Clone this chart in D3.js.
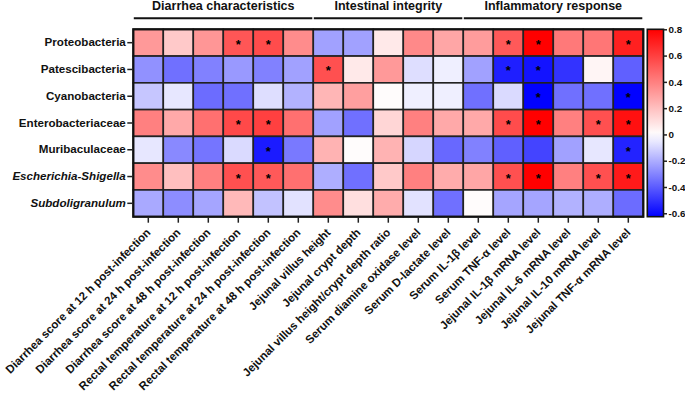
<!DOCTYPE html>
<html>
<head>
<meta charset="utf-8">
<script src="https://cdn.jsdelivr.net/npm/d3@7"></script>
<style>
  body { margin: 0; background: #fff; }
  svg { font-family: "Liberation Sans", Arial, sans-serif; font-weight: bold; }
</style>
</head>
<body>
<script>
const taxa = ["Proteobacteria", "Patescibacteria", "Cyanobacteria", "Enterobacteriaceae",
    "Muribaculaceae", "Escherichia-Shigella", "Subdoligranulum"];
const italicTaxa = ["Escherichia-Shigella", "Subdoligranulum"];

const indices = [
    "Diarrhea score at 12 h post-infection",
    "Diarrhea score at 24 h post-infection",
    "Diarrhea score at 48 h post-infection",
    "Rectal temperature at 12 h post-infection",
    "Rectal temperature at 24 h post-infection",
    "Rectal temperature at 48 h post-infection",
    "Jejunal villus height",
    "Jejunal crypt depth",
    "Jejunal villus height/crypt depth ratio",
    "Serum diamine oxidase level",
    "Serum D-lactate level",
    "Serum IL-1β level",
    "Serum TNF-α level",
    "Jejunal IL-1β mRNA level",
    "Jejunal IL-6 mRNA level",
    "Jejunal IL-10 mRNA level",
    "Jejunal TNF-α mRNA level"
];

const groups = ["Diarrhea characteristics", "Intestinal integrity", "Inflammatory response"];
const groupSpans = [[0, 5], [6, 10], [11, 16]];

// correlation coefficients, one row per taxon
const rProteobacteria = [0.32, 0.17, 0.33, 0.53, 0.56, 0.36, -0.23, -0.23, 0.07, 0.37, 0.28, 0.31, 0.52, 0.80, 0.42, 0.43, 0.70];
const rPatescibacteria = [-0.27, -0.35, -0.31, -0.25, -0.31, -0.23, 0.55, 0.07, 0.32, -0.08, -0.04, -0.23, -0.55, -0.58, -0.50, 0.03, -0.39];
const rCyanobacteria = [-0.14, -0.06, -0.36, -0.35, -0.08, -0.19, 0.23, 0.30, 0.01, -0.04, -0.04, -0.35, -0.09, -0.62, -0.35, -0.35, -0.62];
const rEnterobacteriaceae = [0.40, 0.27, 0.45, 0.57, 0.60, 0.45, -0.23, -0.35, 0.13, 0.40, 0.27, 0.27, 0.56, 0.80, 0.40, 0.55, 0.75];
const rMuribaculaceae = [-0.06, -0.29, -0.34, -0.09, -0.56, -0.33, 0.24, 0.01, 0.24, -0.10, -0.37, -0.31, -0.39, -0.46, -0.23, -0.06, -0.54];
const rEscherichia = [0.36, 0.20, 0.40, 0.55, 0.52, 0.45, -0.20, -0.35, 0.17, 0.40, 0.26, 0.28, 0.55, 0.80, 0.40, 0.55, 0.72];
const rSubdoligranulum = [-0.21, -0.28, -0.22, 0.22, -0.15, -0.07, 0.36, 0.10, 0.26, -0.07, -0.35, 0.01, -0.22, -0.22, -0.19, -0.20, -0.36];

// significance marks (1 = P < 0.05)
const sigProteobacteria = [0, 0, 0, 1, 1, 0, 0, 0, 0, 0, 0, 0, 1, 1, 0, 0, 1];
const sigPatescibacteria = [0, 0, 0, 0, 0, 0, 1, 0, 0, 0, 0, 0, 1, 1, 0, 0, 0];
const sigCyanobacteria = [0, 0, 0, 0, 0, 0, 0, 0, 0, 0, 0, 0, 0, 1, 0, 0, 1];
const sigEnterobacteriaceae = [0, 0, 0, 1, 1, 0, 0, 0, 0, 0, 0, 0, 1, 1, 0, 1, 1];
const sigMuribaculaceae = [0, 0, 0, 0, 1, 0, 0, 0, 0, 0, 0, 0, 0, 0, 0, 0, 1];
const sigEscherichia = [0, 0, 0, 1, 1, 0, 0, 0, 0, 0, 0, 0, 1, 1, 0, 1, 1];
const sigSubdoligranulum = [0, 0, 0, 0, 0, 0, 0, 0, 0, 0, 0, 0, 0, 0, 0, 0, 0];

const colorTicks = [-0.6, -0.4, -0.2, 0, 0.2, 0.4, 0.6, 0.8];
const colorMin = -0.626, colorMax = 0.8;

const rValues = [rProteobacteria, rPatescibacteria, rCyanobacteria, rEnterobacteriaceae,
    rMuribaculaceae, rEscherichia, rSubdoligranulum];
const sigValues = [sigProteobacteria, sigPatescibacteria, sigCyanobacteria, sigEnterobacteriaceae,
    sigMuribaculaceae, sigEscherichia, sigSubdoligranulum];

const svgWidth = 685, svgHeight = 395;
const plot = {left: 133.3, right: 643.3, top: 29.3, bottom: 216.7};

const cells = [];
taxa.forEach((t, i) => indices.forEach((c, j) => {
    cells.push({taxon: t, index: c, r: rValues[i][j], sig: sigValues[i][j]});
}));

const svg = d3.select("body").append("svg")
    .attr("width", svgWidth)
    .attr("height", svgHeight);

const x = d3.scaleBand().domain(indices).range([plot.left, plot.right]);
const y = d3.scaleBand().domain(taxa).range([plot.top, plot.bottom]);
const color = d3.scaleLinear()
    .domain([colorMin, 0, colorMax])
    .range(["#0000ff", "#ffffff", "#ff0000"]);

// cells
svg.append("g")
    .selectAll("rect")
    .data(cells)
    .join("rect")
    .attr("x", d => x(d.index))
    .attr("y", d => y(d.taxon))
    .attr("width", x.bandwidth())
    .attr("height", y.bandwidth())
    .attr("fill", d => color(d.r))
    .attr("stroke", "#222")
    .attr("stroke-width", 1.6);

svg.append("g")
    .selectAll("text")
    .data(cells.filter(d => d.sig))
    .join("text")
    .attr("x", d => x(d.index) + x.bandwidth() / 2)
    .attr("y", d => y(d.taxon) + y.bandwidth() / 2 + 6)
    .attr("text-anchor", "middle")
    .attr("font-size", 13)
    .attr("fill", "#000")
    .text("*");

svg.append("rect")
    .attr("x", plot.left).attr("y", plot.top)
    .attr("width", plot.right - plot.left).attr("height", plot.bottom - plot.top)
    .attr("fill", "none").attr("stroke", "#111").attr("stroke-width", 2.2);

// y axis
const gy = svg.append("g")
    .attr("transform", `translate(${plot.left - 1},0)`)
    .call(d3.axisLeft(y).tickSize(5).tickPadding(1.5));
gy.select(".domain").remove();
gy.selectAll("line").attr("stroke", "#222").attr("stroke-width", 1.5);
gy.selectAll("text")
    .attr("font-size", 11.6)
    .attr("font-weight", "bold")
    .attr("font-family", "Liberation Sans, Arial, sans-serif")
    .attr("fill", "#111")
    .attr("font-style", d => italicTaxa.includes(d) ? "italic" : "normal");

// x axis
const gx = svg.append("g")
    .attr("transform", `translate(0,${plot.bottom + 1})`)
    .call(d3.axisBottom(x).tickSize(5));
gx.select(".domain").remove();
gx.selectAll("line").attr("stroke", "#222").attr("stroke-width", 1.5);
gx.selectAll("text")
    .attr("x", 0).attr("y", 0).attr("dy", 0)
    .attr("transform", "translate(3,15.5) rotate(-45)")
    .attr("text-anchor", "end")
    .attr("font-size", 11.5)
    .attr("font-weight", "bold")
    .attr("font-family", "Liberation Sans, Arial, sans-serif")
    .attr("fill", "#111");

// group headers
const gh = svg.append("g");
groups.forEach((g, i) => {
    const x0 = x(indices[groupSpans[i][0]]);
    const x1 = x(indices[groupSpans[i][1]]) + x.bandwidth();
    gh.append("line")
        .attr("x1", x0 + 0.5).attr("x2", x1 - 1)
        .attr("y1", 18.3).attr("y2", 18.3)
        .attr("stroke", "#111").attr("stroke-width", 2);
    gh.append("text")
        .attr("x", (x0 + x1) / 2).attr("y", 9.5)
        .attr("text-anchor", "middle")
        .attr("font-size", 12.5)
        .attr("fill", "#111")
        .text(g);
});

// colour bar
const bar = {x: 647.3, w: 16.2};
const cy = d3.scaleLinear().domain([colorMin, colorMax]).range([plot.bottom, plot.top]);
const grad = svg.append("defs").append("linearGradient")
    .attr("id", "cbar").attr("x1", 0).attr("x2", 0).attr("y1", 1).attr("y2", 0);
d3.range(0, 1.0001, 0.05).forEach(t => {
    grad.append("stop")
        .attr("offset", t)
        .attr("stop-color", color(colorMin + t * (colorMax - colorMin)));
});
svg.append("rect")
    .attr("x", bar.x).attr("y", plot.top)
    .attr("width", bar.w).attr("height", plot.bottom - plot.top)
    .attr("fill", "url(#cbar)")
    .attr("stroke", "#111").attr("stroke-width", 1.6);

const gc = svg.append("g")
    .attr("transform", `translate(${bar.x + bar.w},0)`)
    .call(d3.axisRight(cy).tickValues(colorTicks).tickSize(3.5).tickPadding(1.5)
        .tickFormat(d => String(d)));
gc.select(".domain").remove();
gc.selectAll("line").attr("stroke", "#222").attr("stroke-width", 1.5);
gc.selectAll("text")
    .attr("font-size", 9.8)
    .attr("font-weight", "bold")
    .attr("font-family", "Liberation Sans, Arial, sans-serif")
    .attr("fill", "#111");
</script>
</body>
</html>
